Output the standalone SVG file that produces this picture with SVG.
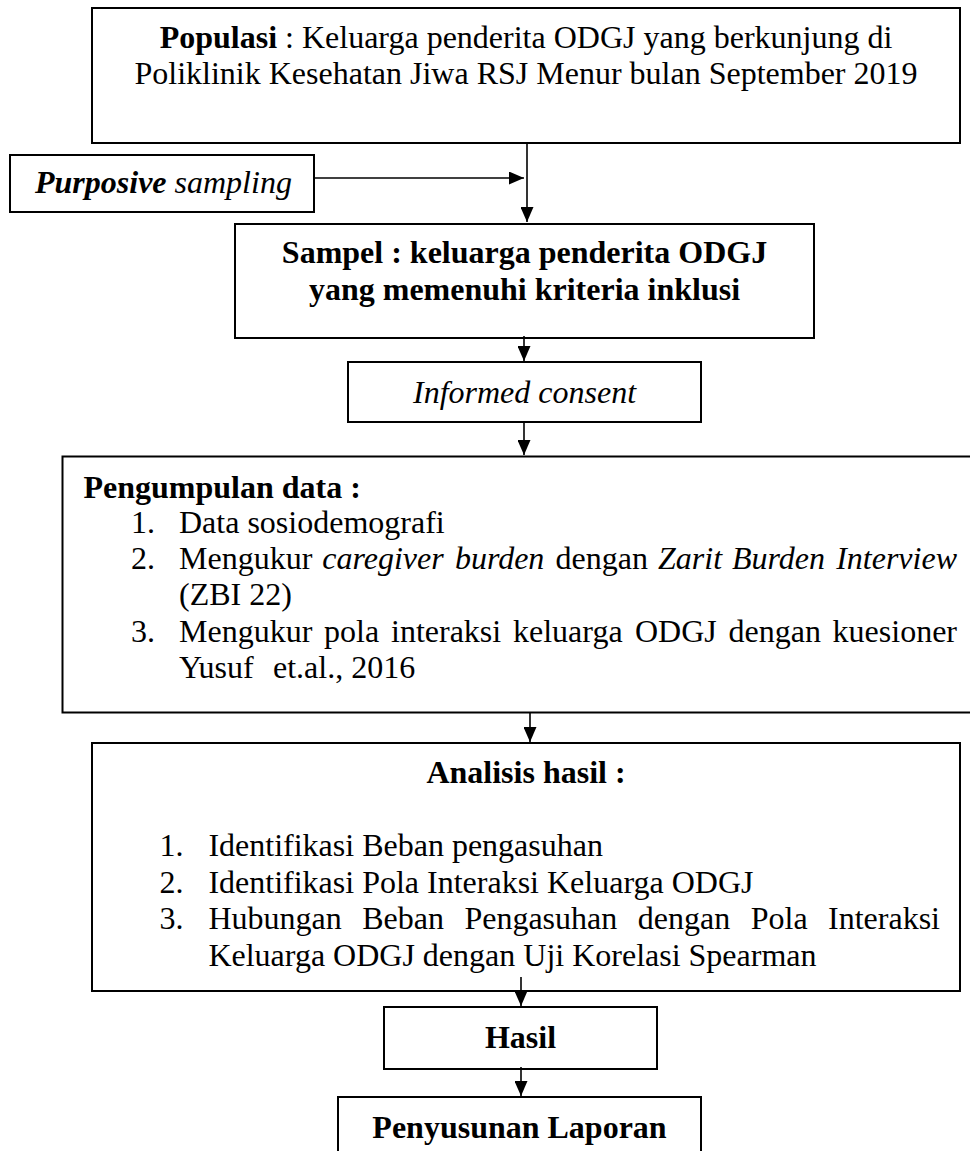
<svg xmlns="http://www.w3.org/2000/svg" width="970" height="1151" viewBox="0 0 970 1151">
<style>
.box{fill:#fff;stroke:#000;stroke-width:2}
text{font-family:"Liberation Serif","Times New Roman",serif;font-size:32px;fill:#000}
.b{font-weight:bold}
.i{font-style:italic}
.c{text-anchor:middle}
.e{text-anchor:end}
.conn path{fill:none;stroke:#000;stroke-width:1.6}
</style>
<defs>
<marker id="arr" viewBox="0 0 16 13" markerUnits="userSpaceOnUse" markerWidth="16" markerHeight="13" refX="15" refY="6.5" orient="auto">
<path d="M0,0 L15,6.5 L0,13 z" fill="#000"/>
</marker>
</defs>
<rect width="970" height="1151" fill="#fff"/>

<g id="populasi">
<rect class="box" x="92" y="8" width="868" height="135"/>
<text class="c" x="526" y="48"><tspan class="b">Populasi</tspan> : Keluarga penderita ODGJ yang berkunjung di</text>
<text class="c" x="526" y="84">Poliklinik Kesehatan Jiwa RSJ Menur bulan September 2019</text>
</g>

<g id="purposive">
<rect class="box" x="10" y="155" width="304" height="57"/>
<text class="i" x="35" y="193"><tspan class="b">Purposive</tspan> sampling</text>
</g>

<g id="sampel">
<rect class="box" x="235" y="224" width="579" height="114"/>
<text class="c b" x="524.5" y="263">Sampel : keluarga penderita ODGJ</text>
<text class="c b" x="524.5" y="300">yang memenuhi kriteria inklusi</text>
</g>

<g id="consent">
<rect class="box" x="348" y="362" width="353" height="60"/>
<text class="c i" x="524.5" y="403">Informed consent</text>
</g>

<g id="pengumpulan">
<rect class="box" x="62.5" y="456.5" width="940" height="256"/>
<text class="b" x="83.5" y="498">Pengumpulan data :</text>
<text x="131" y="533">1.</text>
<text x="179" y="533">Data sosiodemografi</text>
<text x="131" y="569">2.</text>
<text y="569"><tspan x="179">Mengukur</tspan><tspan class="i" x="322.3">caregiver</tspan><tspan class="i" x="454.9">burden</tspan><tspan x="555.6">dengan</tspan><tspan class="i" x="658">Zarit</tspan><tspan class="i" x="732">Burden</tspan></text>
<text class="i e" x="957" y="569">Interview</text>
<text x="179" y="605">(ZBI 22)</text>
<text x="131" y="642">3.</text>
<text y="642"><tspan x="179">Mengukur</tspan><tspan x="324.1">pola</tspan><tspan x="391">interaksi</tspan><tspan x="513">keluarga</tspan><tspan x="635">ODGJ</tspan><tspan x="728.5">dengan</tspan></text>
<text class="e" x="957" y="642">kuesioner</text>
<text x="179" y="678">Yusuf<tspan x="273">et.al., 2016</tspan></text>
</g>

<g id="analisis">
<rect class="box" x="92" y="743" width="868" height="248"/>
<text class="c b" x="526" y="783">Analisis hasil :</text>
<text x="159.5" y="856">1.</text>
<text x="208.4" y="856">Identifikasi Beban pengasuhan</text>
<text x="159.5" y="893">2.</text>
<text x="208.4" y="893">Identifikasi Pola Interaksi Keluarga ODGJ</text>
<text x="159.5" y="929">3.</text>
<text y="929"><tspan x="208.4">Hubungan</tspan><tspan x="362.2">Beban</tspan><tspan x="464.4">Pengasuhan</tspan><tspan x="637.8">dengan</tspan><tspan x="750.7">Pola</tspan></text>
<text class="e" x="940" y="929">Interaksi</text>
<text x="208.4" y="966">Keluarga ODGJ dengan Uji Korelasi Spearman</text>
</g>

<g id="hasil">
<rect class="box" x="384" y="1007" width="273" height="62"/>
<text class="c b" x="520.5" y="1048">Hasil</text>
</g>

<g id="laporan">
<rect class="box" x="338" y="1097" width="363" height="80"/>
<text class="c b" x="519.5" y="1138">Penyusunan Laporan</text>
</g>

<g id="connectors" class="conn">
<path d="M527,143 V222" marker-end="url(#arr)"/>
<path d="M314,178 H524" marker-end="url(#arr)"/>
<path d="M524,336 V361" marker-end="url(#arr)"/>
<path d="M524,422 V455" marker-end="url(#arr)"/>
<path d="M530,713 V742" marker-end="url(#arr)"/>
<path d="M521,977 V1006" marker-end="url(#arr)"/>
<path d="M521,1067 V1096" marker-end="url(#arr)"/>
</g>
</svg>
